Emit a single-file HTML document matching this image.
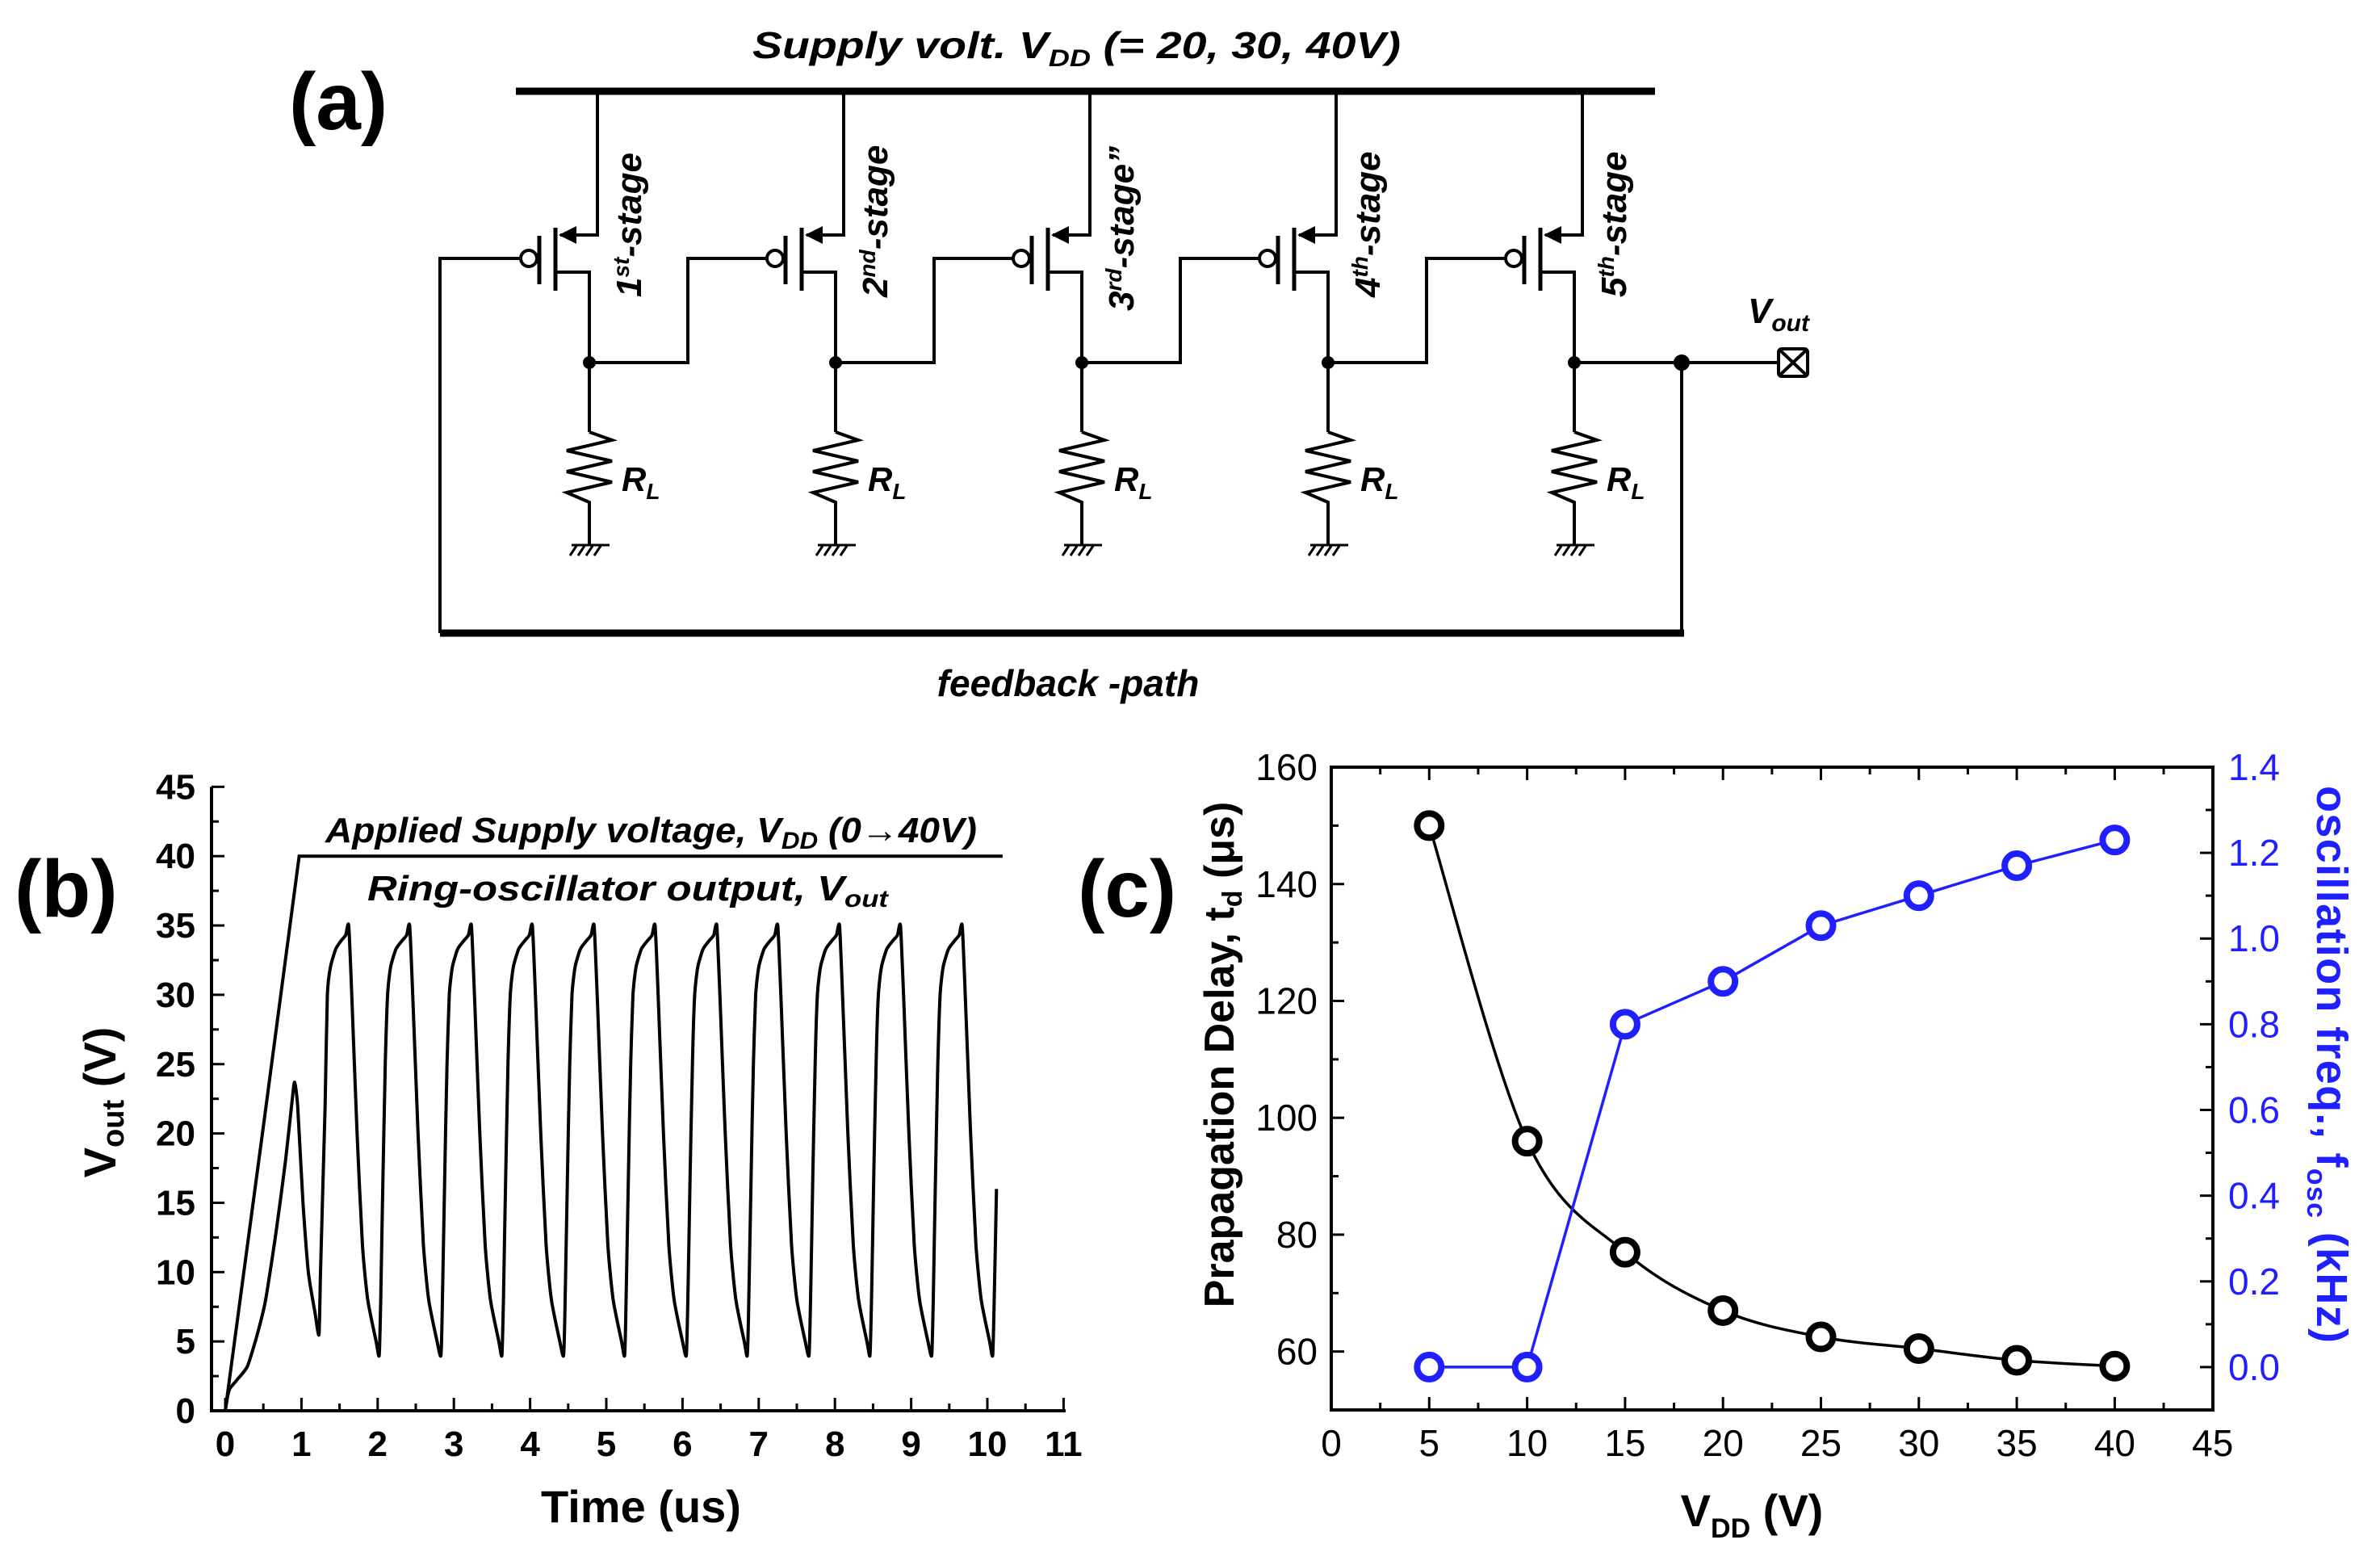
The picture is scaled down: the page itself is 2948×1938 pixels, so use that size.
<!DOCTYPE html>
<html><head><meta charset="utf-8"><style>
html,body{margin:0;padding:0;background:#fff;}
svg{display:block;font-family:"Liberation Sans",sans-serif;}
</style></head><body>
<svg id="fig" width="2948" height="1938" viewBox="0 0 2948 1938" xmlns="http://www.w3.org/2000/svg">
<rect width="2948" height="1938" fill="#fff"/>
<g id="panelA" stroke="#000" fill="none" stroke-width="4">
  <text x="358" y="160" font-size="100" font-weight="bold" fill="#000" stroke="none">(a)</text>
  <text x="932" y="72" font-size="46" font-weight="bold" font-style="italic" fill="#000" stroke="none" textLength="803" lengthAdjust="spacingAndGlyphs">Supply volt. V<tspan font-size="30" dy="10">DD</tspan><tspan dy="-10"> (= 20, 30, 40V)</tspan></text>
  <line x1="639" y1="113" x2="2050" y2="113" stroke-width="9"/>
  <line x1="545" y1="784" x2="2086" y2="784" stroke-width="9"/>
  <text x="1323" y="862" font-size="46" font-weight="bold" font-style="italic" fill="#000" stroke="none" text-anchor="middle">feedback -path</text>
  <g id="stages"></g>
  <polyline points="645,320 545,320 545,784"/>
  <line x1="1950" y1="449" x2="2202" y2="449"/>
  <line x1="2083" y1="449" x2="2083" y2="784"/>
  <circle cx="2083" cy="449" r="8" fill="#000"/>
  <rect x="2203" y="432" width="36" height="34" rx="4"/>
  <path d="M2203,432 L2239,466 M2239,432 L2203,466"/>
  <text x="2165" y="400" font-size="44" font-weight="bold" font-style="italic" fill="#000" stroke="none">V<tspan font-size="30" dy="10">out</tspan></text>
</g>
<g id="panelB"></g>
<g id="panelC"></g>
</svg>
<script>
// ---- Panel (b) data ----
const bXTicks=[0,1,2,3,4,5,6,7,8,9,10,11];
const bYTicks=[0,5,10,15,20,25,30,35,40,45];
const supplyT=[0,0.5,0.97,10.2];
const supplyV=[0,20.5,40,40];
const voutT=[0,0.03,0.06,0.15,0.29,0.42,0.53,0.67,0.79,0.88,0.91,0.95,1.02,1.09,1.18,1.23,1.25,1.28,1.31,1.34,1.38,1.45,1.52,1.58,1.62,1.66,1.73,1.80,1.87,1.98,
2.02,2.04,2.07,2.10,2.13,2.17,2.24,2.32,2.38,2.42,2.46,2.53,2.60,2.67,2.78,
2.83,2.85,2.88,2.91,2.94,2.98,3.05,3.13,3.19,3.23,3.27,3.34,3.41,3.48,3.59,
3.63,3.65,3.68,3.71,3.74,3.78,3.85,3.93,3.99,4.03,4.07,4.14,4.21,4.28,4.39,
4.44,4.46,4.49,4.52,4.55,4.59,4.66,4.74,4.80,4.84,4.88,4.95,5.02,5.09,5.20,
5.24,5.26,5.29,5.32,5.35,5.39,5.46,5.54,5.60,5.64,5.68,5.75,5.82,5.89,6.00,
6.05,6.07,6.10,6.13,6.16,6.20,6.27,6.35,6.41,6.45,6.49,6.56,6.63,6.70,6.81,
6.85,6.87,6.90,6.93,6.96,7.00,7.07,7.15,7.21,7.25,7.29,7.36,7.43,7.50,7.61,
7.66,7.68,7.71,7.74,7.77,7.81,7.88,7.96,8.02,8.06,8.10,8.17,8.24,8.31,8.42,
8.46,8.48,8.51,8.54,8.57,8.61,8.68,8.76,8.82,8.86,8.90,8.97,9.04,9.11,9.22,
9.27,9.29,9.32,9.35,9.38,9.42,9.49,9.57,9.63,9.67,9.71,9.78,9.85,9.92,10.03,
10.07,10.09,10.12];
const voutV=[0,1,1.6,2.2,3.2,5.5,8,13,18,22.5,23.7,22,15,10,7,5.5,10,16,22,30,32,33.3,33.9,34.3,35,30,20,12,8,5,
4,8,17,25,30,32,33.3,33.9,34.3,35,30,20,12,8,5,
4,8,17,25,30,32,33.3,33.9,34.3,35,30,20,12,8,5,
4,8,17,25,30,32,33.3,33.9,34.3,35,30,20,12,8,5,
4,8,17,25,30,32,33.3,33.9,34.3,35,30,20,12,8,5,
4,8,17,25,30,32,33.3,33.9,34.3,35,30,20,12,8,5,
4,8,17,25,30,32,33.3,33.9,34.3,35,30,20,12,8,5,
4,8,17,25,30,32,33.3,33.9,34.3,35,30,20,12,8,5,
4,8,17,25,30,32,33.3,33.9,34.3,35,30,20,12,8,5,
4,8,17,25,30,32,33.3,33.9,34.3,35,30,20,12,8,5,
4,8,17,25,30,32,33.3,33.9,34.3,35,30,20,12,8,5,
4,8,16];
// ---- Panel (c) data ----
const vdd=[5,10,15,20,25,30,35,40];
const delayTd=[150,96,77,67,62.5,60.5,58.5,57.5];
const freqOsc=[0,0,0.8,0.9,1.03,1.1,1.17,1.23];
const cXTicks=[0,5,10,15,20,25,30,35,40,45];
const cYLTicks=[60,80,100,120,140,160];
const cYRTicks=["0.0","0.2","0.4","0.6","0.8","1.0","1.2","1.4"];

const NS="http://www.w3.org/2000/svg";
function mk(parent,tag,attrs,text){const e=document.createElementNS(NS,tag);for(const k in attrs)e.setAttribute(k,attrs[k]);if(text!==undefined)e.textContent=text;parent.appendChild(e);return e;}
function smooth(P,k){let d=`M${P[0][0].toFixed(1)},${P[0][1].toFixed(1)}`;
  for(let i=0;i<P.length-1;i++){const p0=P[Math.max(0,i-1)],p1=P[i],p2=P[i+1],p3=P[Math.min(P.length-1,i+2)];
  d+=` C${(p1[0]+(p2[0]-p0[0])/k).toFixed(1)},${(p1[1]+(p2[1]-p0[1])/k).toFixed(1)} ${(p2[0]-(p3[0]-p1[0])/k).toFixed(1)},${(p2[1]-(p3[1]-p1[1])/k).toFixed(1)} ${p2[0].toFixed(1)},${p2[1].toFixed(1)}`;}
  return d;}

// ---- Circuit stages ----
const st=document.getElementById('stages');
const sup=["st","nd","rd","th","th"];
for(let i=0;i<5;i++){
  const dx=305*i, D=730+dx, S=740+dx, C=688+dx, G=668+dx, cx=655+dx;
  const g=mk(st,'g',{});
  
  
  mk(g,'polyline',{points:`${S},113 ${S},291 ${C+6},291`});
  mk(g,'path',{d:`M${C+4},291 L${C+26},280 L${C+26},302 Z`,fill:'#000',stroke:'none'});
  mk(g,'line',{x1:C,y1:282,x2:C,y2:360,'stroke-width':5});
  mk(g,'line',{x1:G,y1:292,x2:G,y2:352,'stroke-width':5});
  mk(g,'circle',{cx:cx,cy:320,r:10});
  mk(g,'polyline',{points:`${C},337 ${D},337 ${D},535`});
  mk(g,'circle',{cx:D,cy:449,r:8,fill:'#000',stroke:'none'});
  mk(g,'polyline',{points:`${D},535 ${D+28},545 ${D-28},558 ${D+28},571 ${D-28},584 ${D+28},597 ${D-28},610 ${D},622 ${D},675`});
  mk(g,'line',{x1:D-22,y1:675,x2:D+25,y2:675,'stroke-width':3});
  mk(g,'path',{d:`M${D-16},676 l-8,12 M${D-6},676 l-8,12 M${D+4},676 l-8,12 M${D+14},676 l-8,12`,'stroke-width':3});
  const rl=mk(g,'text',{x:D+40,y:608,'font-size':42,'font-weight':'bold','font-style':'italic',fill:'#000',stroke:'none'},'R');
  mk(rl,'tspan',{'font-size':28,dy:10},'L');
  if(i<4){mk(g,'polyline',{points:`${D},449 ${D+122},449 ${D+122},320 ${cx+295},320`});}
  const lab=mk(g,'text',{x:0,y:0,transform:`translate(${D+64},${i==2?385:368}) rotate(-90)`,'font-size':44,'font-weight':'bold','font-style':'italic',fill:'#000',stroke:'none'});
  
  
  mk(lab,'tspan',{},String(i+1));
  mk(lab,'tspan',{'font-size':28,dy:-15},sup[i]);
  mk(lab,'tspan',{dy:15},i==2?'-stage”':'-stage');
}

// ---- Panel (b) ----
const pb=document.getElementById('panelB');
const xB=t=>279+t*94.4, yB=v=>1747-v*17.17;
mk(pb,'text',{x:18,y:1135,'font-size':100,'font-weight':'bold'},'(b)');
mk(pb,'polyline',{points:`262,${yB(45)} 262,1747 1320,1747`,fill:'none',stroke:'#000','stroke-width':4});
for(let t=0;t<=11.01;t+=0.5){const maj=Math.abs(t-Math.round(t))<0.01;mk(pb,'line',{x1:xB(t),y1:1747,x2:xB(t),y2:1747-(maj?16:9),stroke:'#000','stroke-width':3});}
for(let v=0;v<=45.01;v+=2.5){const maj=Math.abs(v/5-Math.round(v/5))<0.01;mk(pb,'line',{x1:262,y1:yB(v),x2:262+(maj?16:9),y2:yB(v),stroke:'#000','stroke-width':3});}
bXTicks.forEach(t=>{const e=mk(pb,'text',{x:xB(t),y:1803,'font-size':44,'font-weight':'bold','text-anchor':'middle'},String(t));});
bYTicks.forEach(v=>{const e=mk(pb,'text',{x:242,y:yB(v)+15,'font-size':44,'font-weight':'bold','text-anchor':'end'},String(v));});
const tx=mk(pb,'text',{x:794,y:1885,'font-size':56,'font-weight':'bold','text-anchor':'middle'},'Time (us)');
const ty=mk(pb,'text',{x:0,y:0,transform:'translate(143,1365) rotate(-90)','font-size':56,'font-weight':'bold','text-anchor':'middle'});

mk(ty,'tspan',{},'V');mk(ty,'tspan',{'font-size':38,dy:10},'out');mk(ty,'tspan',{dy:-10},' (V)');
const sp=mk(pb,'polyline',{points:supplyT.map((t,i)=>xB(t)+','+yB(supplyV[i])).join(' '),fill:'none',stroke:'#000','stroke-width':4});

const vp=mk(pb,'path',{d:smooth(voutT.map((t,i)=>[xB(t),yB(voutV[i])]),10),fill:'none',stroke:'#000','stroke-width':4,'stroke-linejoin':'round'});

const at=mk(pb,'text',{x:403,y:1043,'font-size':44,'font-weight':'bold','font-style':'italic',textLength:807,lengthAdjust:'spacingAndGlyphs'});

mk(at,'tspan',{},'Applied Supply voltage, V');mk(at,'tspan',{'font-size':30,dy:8},'DD');mk(at,'tspan',{dy:-8},' (0→40V)');
const rt=mk(pb,'text',{x:455,y:1115,'font-size':44,'font-weight':'bold','font-style':'italic',textLength:645,lengthAdjust:'spacingAndGlyphs'});

mk(rt,'tspan',{},'Ring-oscillator output, V');mk(rt,'tspan',{'font-size':30,dy:8},'out');

// ---- Panel (c) ----
const pc=document.getElementById('panelC');
const xC=v=>1649+v*24.26, yL=d=>1746-(d-50)*7.236, yR=f=>1746-(f+0.1)*530.7;
mk(pc,'text',{x:1335,y:1135,'font-size':100,'font-weight':'bold'},'(c)');
mk(pc,'rect',{x:1649,y:950,width:1092,height:796,fill:'none',stroke:'#000','stroke-width':4});
for(let v=0;v<=45.01;v+=2.5){const maj=Math.abs(v/5-Math.round(v/5))<0.01;const L=maj?16:9;
  mk(pc,'line',{x1:xC(v),y1:1746,x2:xC(v),y2:1746-L,stroke:'#000','stroke-width':3});
  mk(pc,'line',{x1:xC(v),y1:950,x2:xC(v),y2:950+L,stroke:'#000','stroke-width':3});}
for(let d=50;d<=160.01;d+=10){const maj=d%20==0;mk(pc,'line',{x1:1649,y1:yL(d),x2:1649+(maj?16:9),y2:yL(d),stroke:'#000','stroke-width':3});}
for(let f=-0.1;f<=1.41;f+=0.1){const maj=Math.abs(f*5-Math.round(f*5))<0.01;mk(pc,'line',{x1:2741,y1:yR(f),x2:2741-(maj?16:9),y2:yR(f),stroke:'#000','stroke-width':3});}
cXTicks.forEach(v=>{const e=mk(pc,'text',{x:xC(v),y:1803,'font-size':46,'text-anchor':'middle'},String(v));});
cYLTicks.forEach(d=>{const e=mk(pc,'text',{x:1632,y:yL(d)+16,'font-size':46,'text-anchor':'end'},String(d));});
cYRTicks.forEach(s=>{const e=mk(pc,'text',{x:2760,y:yR(parseFloat(s))+16,'font-size':46,'text-anchor':'start',fill:'#1f1fff'},s);});
const cx1=mk(pc,'text',{x:2170,y:1890,'font-size':56,'font-weight':'bold','text-anchor':'middle'});

mk(cx1,'tspan',{},'V');mk(cx1,'tspan',{'font-size':34,dy:14},'DD');mk(cx1,'tspan',{dy:-14},' (V)');
const cyl=mk(pc,'text',{x:0,y:0,transform:'translate(1528,1306) rotate(-90)','font-size':52,'font-weight':'bold','text-anchor':'middle'});

mk(cyl,'tspan',{},'Prapagation Delay, t');mk(cyl,'tspan',{'font-size':34,dy:10},'d');mk(cyl,'tspan',{dy:-10},' (μs)');
const cyr=mk(pc,'text',{x:2868,y:0,transform:'translate(0,0)','font-size':54,'font-weight':'bold',fill:'#1f1fff'});
cyr.setAttribute('transform','translate(2870,973) rotate(90)');
cyr.setAttribute('x','0');
cyr.setAttribute('textLength','690');

mk(cyr,'tspan',{},'oscillation freq., f');mk(cyr,'tspan',{'font-size':34,dy:12},'osc');mk(cyr,'tspan',{dy:-12},' (kHz)');
const P=vdd.map((v,i)=>[xC(v),yL(delayTd[i])]);
mk(pc,'path',{d:smooth(P,6),fill:'none',stroke:'#000','stroke-width':3.5});
mk(pc,'polyline',{points:vdd.map((v,i)=>xC(v)+','+yR(freqOsc[i])).join(' '),fill:'none',stroke:'#1f1fff','stroke-width':3.5});
vdd.forEach((v,i)=>{
  const a=mk(pc,'circle',{cx:xC(v),cy:yL(delayTd[i]),r:15,fill:'#fff',stroke:'#000','stroke-width':8});
  
  
  const b=mk(pc,'circle',{cx:xC(v),cy:yR(freqOsc[i]),r:15,fill:'#fff',stroke:'#1f1fff','stroke-width':8});
  
  
});
</script>
</body></html>
